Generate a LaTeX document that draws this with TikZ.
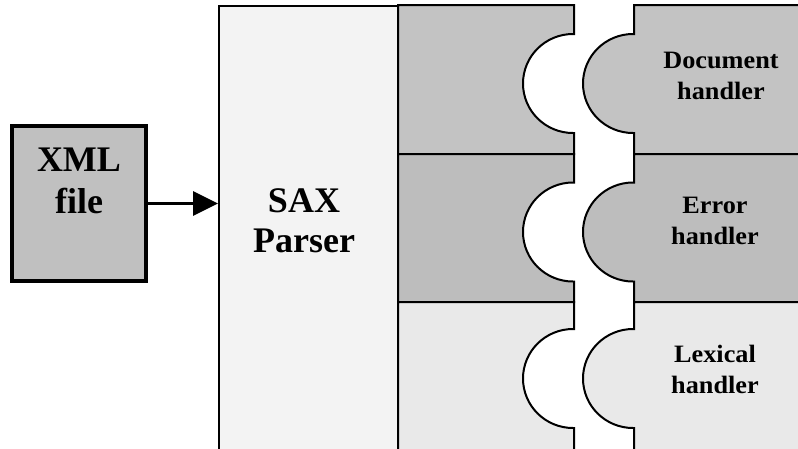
\documentclass[tikz,border=0pt]{standalone}
\usepackage{fontspec}
\setmainfont{Liberation Serif}
\newfontfamily\handlerfont[FakeStretch=1.05]{Liberation Serif}
\usetikzlibrary{arrows.meta}

\definecolor{parserfill}{HTML}{F3F3F3}
\definecolor{docfill}{HTML}{C3C3C3}
\definecolor{errfill}{HTML}{BDBDBD}
\definecolor{lexfill}{HTML}{E9E9E9}
\definecolor{filefill}{HTML}{C0C0C0}

% socket piece of the parser: top, bottom, notch centre, fill
\newcommand\saxsocket[4]{%
  \filldraw[part, fill=#4] (398,#1) -- (574,#1) -- (574,{#3-49.5}) -- (573,{#3-49.5})
    arc[start angle=270, end angle=90, x radius=50, y radius=49.5]
    -- (574,{#3+49.5}) -- (574,#2) -- (398,#2) -- cycle;}
% handler piece with its plug: top, bottom, plug centre, fill
\newcommand\saxplug[4]{%
  \filldraw[part, fill=#4] (812,#1) -- (634,#1) -- (634,{#3-49.5}) -- (633,{#3-49.5})
    arc[start angle=270, end angle=90, x radius=50, y radius=49.5]
    -- (634,{#3+49.5}) -- (634,#2) -- (812,#2) -- cycle;}

\begin{document}
\begin{tikzpicture}[x=1pt, y=-1pt,
  part/.style={draw=black, line width=2pt, line join=miter},
  parserbox/.style={draw=black, fill=parserfill, line width=2pt, inner sep=0pt,
    minimum width=180pt, minimum height=470pt, anchor=north west},
  filebox/.style={draw=black, fill=filefill, line width=3.8pt, inner sep=0pt,
    minimum width=134pt, minimum height=155pt},
  bigtext/.style={font=\bfseries\fontsize{36}{42}\selectfont, align=center, inner sep=0pt},
  handlertext/.style={font=\handlerfont\bfseries\fontsize{25}{31}\selectfont, align=center, inner sep=0pt},
  flow/.style={line width=3.4pt, -{Triangle[length=25pt, width=24pt]}}
]
\useasboundingbox (0,0) rectangle (798,448);
\clip (0,0) rectangle (798,448);

% parser body
\node[parserbox] (parser) at (218,5) {};

% parser sockets
\saxsocket{5}{154}{83.5}{docfill}
\saxsocket{154}{302}{232}{errfill}
\saxsocket{302}{470}{378.5}{lexfill}

% handlers
\saxplug{5}{154}{83.5}{docfill}
\saxplug{154}{302}{232}{errfill}
\saxplug{302}{470}{378.5}{lexfill}

% input file
\node[filebox] (xml) at (79,203.5) {};
\node[bigtext] (xmltext) at (79,181) {XML\\file};

\node[bigtext, font=\bfseries\fontsize{36}{40}\selectfont] (saxtext) at (304,221) {SAX\\Parser};

\node[handlertext] (doctext) at (721,76) {Document\\handler};
\node[handlertext] (errtext) at (715,220.5) {Error\\handler};
\node[handlertext] (lextext) at (715,369.5) {Lexical\\handler};

\draw[flow] (xml.east) -- (parser.west |- xml.east);
\end{tikzpicture}
\end{document}
